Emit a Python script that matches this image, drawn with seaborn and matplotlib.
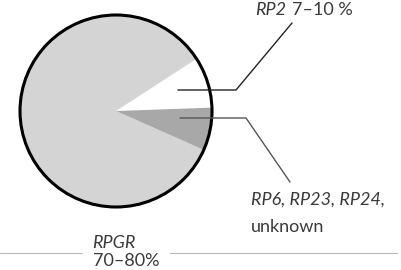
import matplotlib
matplotlib.use("Agg")
import matplotlib.pyplot as plt
import seaborn as sns
import numpy as np

# gene share of the pie (degrees, as percent)
genes = ["RP2", "RPGR", "RP6, RP23, RP24, unknown"]
shares = [8.6, 84.2, 7.2]
colors = ["#ffffff", "#d4d4d4", "#a8a8a8"]

sns.set_style("white")
plt.rcParams["font.family"] = ["Lato", "DejaVu Sans"]

fig = plt.figure(figsize=(4.02, 2.70), dpi=100)
ax = fig.add_axes([0, 0, 1, 1])

cx, cy, r = 116, 159, 96
wedges, _ = ax.pie(shares, colors=colors, startangle=2, center=(cx, cy),
                   radius=r, wedgeprops=dict(linewidth=0), frame=True)
ax.set_xlim(0, 402)
ax.set_ylim(0, 270)
ax.set_aspect("equal")
ax.axis("off")
circle = plt.Circle((cx, cy), r, fill=False, lw=2.2, color="black")
ax.add_patch(circle)

txt = "#3a3a3a"
fs = 13
# RP2 leader
ax.plot([178, 236, 292], [180, 180, 247], color="#222222", lw=1)
ax.text(255, 255, "RP2", style="italic", fontsize=fs, color=txt, va="baseline")
ax.text(292, 255, "7–10 %", fontsize=fs, color=txt, va="baseline")

# minor genes leader
ax.plot([180, 246, 290], [152, 152, 88], color="#555555", lw=1)
ax.text(251, 65, "RP6, RP23, RP24,", style="italic", fontsize=fs, color=txt, va="baseline")
ax.text(251, 38, "unknown", fontsize=fs, color=txt, va="baseline")

# RPGR label
ax.text(114, 22, "RPGR", style="italic", fontsize=fs, color=txt, ha="center", va="baseline")
ax.plot([0, 82], [17, 17], color="#bbbbbb", lw=0.8)
ax.plot([170, 397], [17, 17], color="#bbbbbb", lw=0.8)
ax.text(126, 4, "70–80%", fontsize=fs, color=txt, ha="center", va="baseline")

fig.savefig("out.png", dpi=100)
